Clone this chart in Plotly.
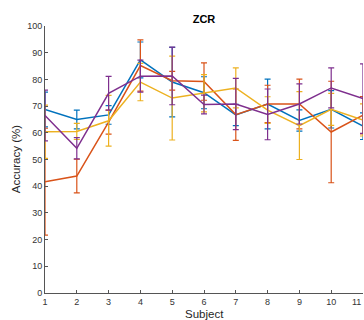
import plotly.graph_objects as go

subjects = [1, 2, 3, 4, 5, 6, 7, 8, 9, 10, 11]

blue_vals = [68.7, 65.0, 66.7, 87.3, 79.0, 75.0, 66.7, 70.8, 64.6, 68.8, 62.5]
blue_err = [6.5, 3.5, 3.5, 6.7, 13.0, 6.0, 4.0, 9.3, 4.0, 7.0, 5.0]

orange_vals = [41.7, 43.8, 64.0, 85.2, 79.5, 79.2, 66.8, 70.8, 70.8, 60.3, 66.6]
orange_err = [20.0, 6.3, 4.5, 9.6, 3.5, 7.0, 9.6, 7.0, 9.3, 19.0, 7.0]

yellow_vals = [60.4, 60.5, 64.5, 79.0, 73.0, 74.8, 76.8, 68.5, 62.7, 68.8, 64.8]
yellow_err = [10.0, 3.0, 9.5, 7.0, 15.7, 7.0, 7.5, 5.0, 12.7, 6.0, 6.0]

purple_vals = [66.5, 54.2, 74.8, 81.2, 81.3, 70.6, 70.8, 66.9, 70.8, 76.8, 72.8]
purple_err = [9.5, 4.0, 6.3, 6.0, 10.8, 3.5, 9.6, 9.5, 7.5, 7.5, 13.0]

series = [
    (blue_vals, blue_err, "#0072BD"),
    (orange_vals, orange_err, "#D95319"),
    (yellow_vals, yellow_err, "#EDB120"),
    (purple_vals, purple_err, "#7E2F8E"),
]

x_ticks = list(range(1, 12))
y_ticks = list(range(0, 101, 10))

fig = go.Figure()
for vals, err, col in series:
    fig.add_trace(go.Scatter(
        x=subjects, y=vals, mode="lines",
        line=dict(color=col, width=1.5),
        error_y=dict(type="data", array=err, visible=True,
                     color=col, thickness=1.2, width=3),
        showlegend=False,
    ))

font_fam = "Liberation Sans, Arial, Helvetica, sans-serif"
fig.update_layout(
    width=364, height=320,
    margin=dict(l=45, r=1, t=26, b=27, autoexpand=False),
    paper_bgcolor="white", plot_bgcolor="white",
    font=dict(family=font_fam, size=9, color="#333333"),
    title=dict(text="<b>ZCR</b>", xref="paper", x=0.5, xanchor="center",
               yref="container", y=1 - 19.5 / 320, yanchor="middle",
               font=dict(size=11, color="#000000", family=font_fam)),
    xaxis=dict(range=[1, 11], tickvals=x_ticks, ticktext=[str(t) for t in x_ticks],
               showline=True, linecolor="#555555", linewidth=0.8,
               ticks="inside", ticklen=3, tickcolor="#555555", tickwidth=0.8,
               showgrid=False, zeroline=False, tickfont=dict(size=9),
               automargin=False),
    yaxis=dict(range=[0, 100], tickvals=y_ticks, ticktext=[str(t) for t in y_ticks],
               showline=True, linecolor="#555555", linewidth=0.8,
               ticks="inside", ticklen=3, tickcolor="#555555", tickwidth=0.8,
               showgrid=False, zeroline=False, tickfont=dict(size=9),
               automargin=False),
    annotations=[
        dict(text="Subject", xref="paper", yref="paper", x=0.5, y=-0.08,
             xanchor="center", yanchor="middle", showarrow=False,
             font=dict(size=11.5, color="#262626")),
        dict(text="Accuracy (%)", xref="paper", yref="paper", x=-0.091, y=0.501,
             xanchor="center", yanchor="middle", textangle=-90, showarrow=False,
             font=dict(size=11.5, color="#262626")),
        dict(text=str(x_ticks[-1]), xref="x", yref="paper", x=x_ticks[-1], y=-0.035,
             xanchor="right", yanchor="middle", showarrow=False,
             font=dict(size=9, color="#333333")),
    ],
)

fig.write_html("out.html",
               config={"displayModeBar": False},
               post_script="document.body.style.margin='0';document.body.style.overflow='hidden';")
